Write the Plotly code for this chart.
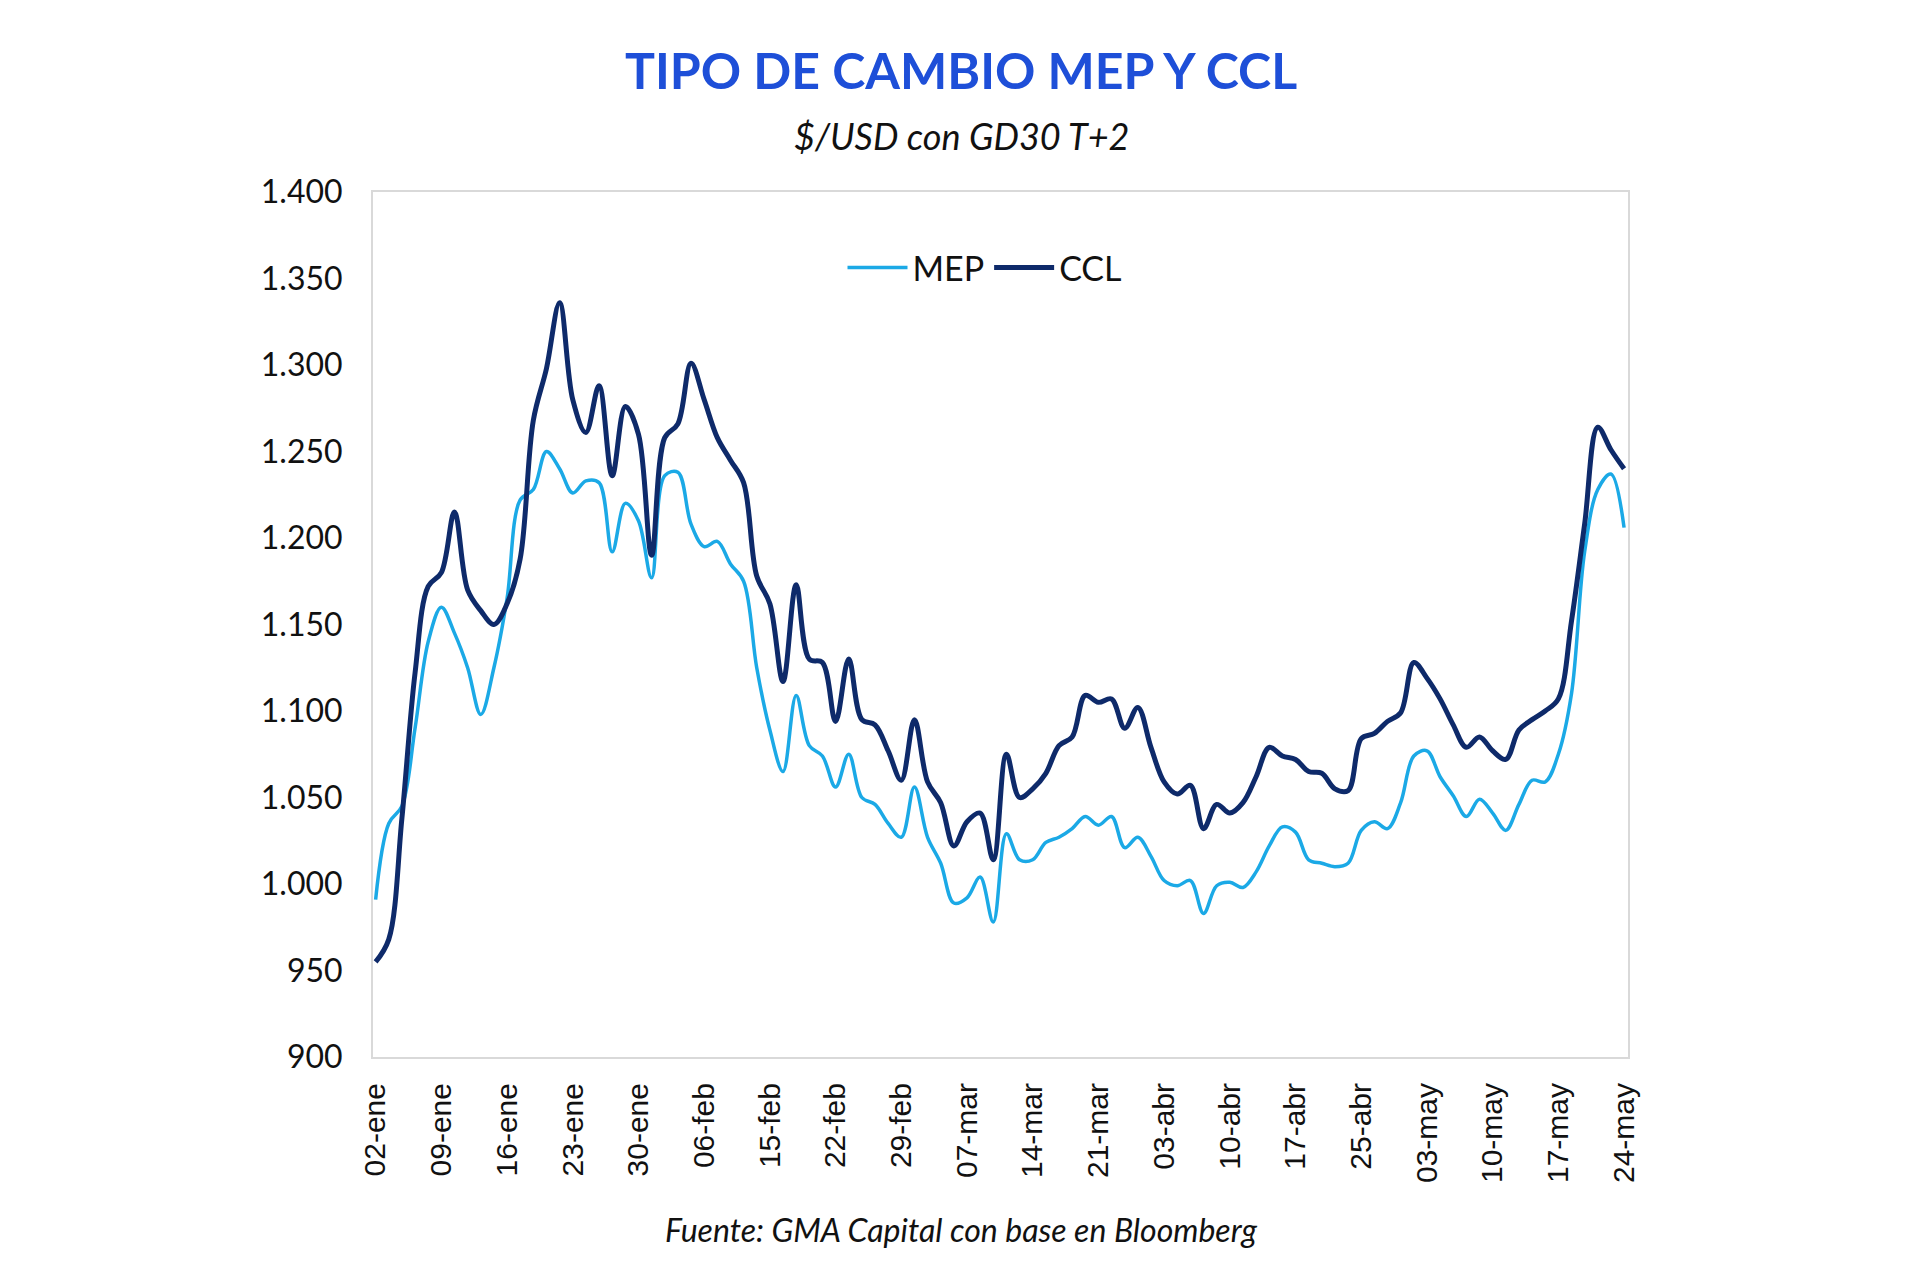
import pandas as pd
import plotly.graph_objects as go

# ---------------- data ----------------
months_es = ["ene", "feb", "mar", "abr", "may"]
market_holidays = ["2024-02-12", "2024-02-13", "2024-03-28", "2024-03-29",
                   "2024-04-01", "2024-04-02", "2024-05-01"]
no_data_days = ["2024-04-22"]

_days = pd.bdate_range("2024-01-02", "2024-05-24")
_days = [d for d in _days if d.strftime("%Y-%m-%d") not in market_holidays + no_data_days]
dates = [f"{d.day:02d}-{months_es[d.month - 1]}" for d in _days]

mep = [991, 1035, 1045, 1090, 1140, 1160, 1145, 1125, 1098, 1125,
       1165, 1222, 1228, 1250, 1240, 1226, 1233, 1232, 1192, 1220,
       1210, 1177, 1236, 1238, 1208, 1195, 1198, 1185, 1175, 1125,
       1089, 1065, 1109, 1080, 1074, 1056, 1075, 1050, 1046, 1035,
       1027, 1056, 1027, 1012, 989, 992, 1004, 978, 1029, 1014,
       1014, 1024, 1027, 1032, 1039, 1034, 1039, 1021, 1027, 1016,
       1002, 999, 1002, 983, 999, 1001, 998, 1007, 1022, 1033,
       1030, 1014, 1012, 1010, 1012, 1031, 1036, 1032, 1047, 1074,
       1077, 1062, 1051, 1039, 1049, 1041, 1031, 1046, 1060, 1059,
       1075, 1110, 1192, 1228, 1237, 1206]

ccl = [955, 968, 1038, 1122, 1172, 1180, 1215, 1170, 1158, 1150,
       1162, 1188, 1268, 1298, 1336, 1280, 1261, 1288, 1236, 1276,
       1260, 1190, 1258, 1266, 1301, 1280, 1258, 1245, 1232, 1178,
       1162, 1117, 1173, 1130, 1128, 1094, 1130, 1095, 1092, 1077,
       1060, 1095, 1059, 1047, 1022, 1036, 1041, 1014, 1075, 1050,
       1055, 1064, 1080, 1085, 1109, 1105, 1107, 1090, 1102, 1079,
       1059, 1052, 1057, 1032, 1046, 1041, 1047, 1062, 1079, 1074,
       1072, 1065, 1064, 1055, 1054, 1084, 1087, 1094, 1099, 1128,
       1119, 1107, 1092, 1079, 1085, 1077, 1072, 1089, 1095, 1100,
       1107, 1152, 1208, 1264, 1251, 1240]

y_tick_vals = [900, 950, 1000, 1050, 1100, 1150, 1200, 1250, 1300, 1350, 1400]
y_tick_text = ["900", "950", "1.000", "1.050", "1.100", "1.150", "1.200",
               "1.250", "1.300", "1.350", "1.400"]
x_tick_labels = dates[::5]

title_text = "TIPO DE CAMBIO MEP Y CCL"
subtitle_text = "$/USD con GD30 T+2"
source_text = "Fuente: GMA Capital con base en Bloomberg"

# ---------------- figure ----------------
MEP_COLOR = "#1BA9E6"
CCL_COLOR = "#0E2A6A"

W, H = 1920, 1286
ML, MR, MT, MB = 373, 292, 192, 229
plot_w = W - ML - MR
plot_h = H - MT - MB

def py(ypix):
    return (H - MB - ypix) / plot_h

def px(xpix):
    return (xpix - ML) / plot_w

fig = go.Figure()
fig.add_trace(go.Scatter(x=dates, y=mep, name="MEP", mode="lines",
                         line=dict(color=MEP_COLOR, width=3.5, shape="spline", smoothing=1.0)))
fig.add_trace(go.Scatter(x=dates, y=ccl, name="CCL", mode="lines",
                         line=dict(color=CCL_COLOR, width=5, shape="spline", smoothing=1.0)))

fig.update_layout(
    width=W, height=H,
    margin=dict(l=ML, r=MR, t=MT, b=MB),
    paper_bgcolor="white", plot_bgcolor="white",
    font=dict(family="Lato", color="#111111"),
    showlegend=True,
    legend=dict(orientation="h", x=px(985), xanchor="center", y=py(268), yanchor="middle",
                font=dict(family="Lato", size=34, color="#111111"),
                bgcolor="rgba(0,0,0,0)", itemwidth=60, traceorder="normal"),
    annotations=[
        dict(text=f"<b>{title_text}</b>", x=px(961), xref="paper", y=py(70), yref="paper",
             xanchor="center", yanchor="middle",
             showarrow=False, font=dict(family="Lato", size=50, color="#1E4FD8")),
        dict(text=f"<i>{subtitle_text}</i>", x=px(961), xref="paper", y=py(136), yref="paper",
             xanchor="center", yanchor="middle",
             showarrow=False, font=dict(family="Lato", size=36, color="#111111")),
        dict(text=f"<i>{source_text}</i>", x=px(961), xref="paper", y=py(1229), yref="paper",
             xanchor="center", yanchor="middle",
             showarrow=False, font=dict(family="Lato", size=32, color="#111111")),
    ],
)

fig.update_xaxes(
    type="category",
    range=[-0.2, len(dates) - 1 + 0.3],
    tickmode="array", tickvals=x_tick_labels, ticktext=x_tick_labels,
    tickangle=-90,
    tickfont=dict(family="Liberation Sans", size=30, color="#111111"),
    showgrid=False, zeroline=False,
    showline=True, linecolor="#D9D9D9", linewidth=2, mirror=True,
    ticks="", ticklabelstandoff=12,
)
fig.update_yaxes(
    range=[900, 1400],
    tickmode="array", tickvals=y_tick_vals, ticktext=y_tick_text,
    tickfont=dict(family="Lato", size=32, color="#111111"),
    showgrid=False, zeroline=False,
    showline=True, linecolor="#D9D9D9", linewidth=2, mirror=True,
    ticks="", ticklabelstandoff=22,
)

fig.write_html("out.html")
